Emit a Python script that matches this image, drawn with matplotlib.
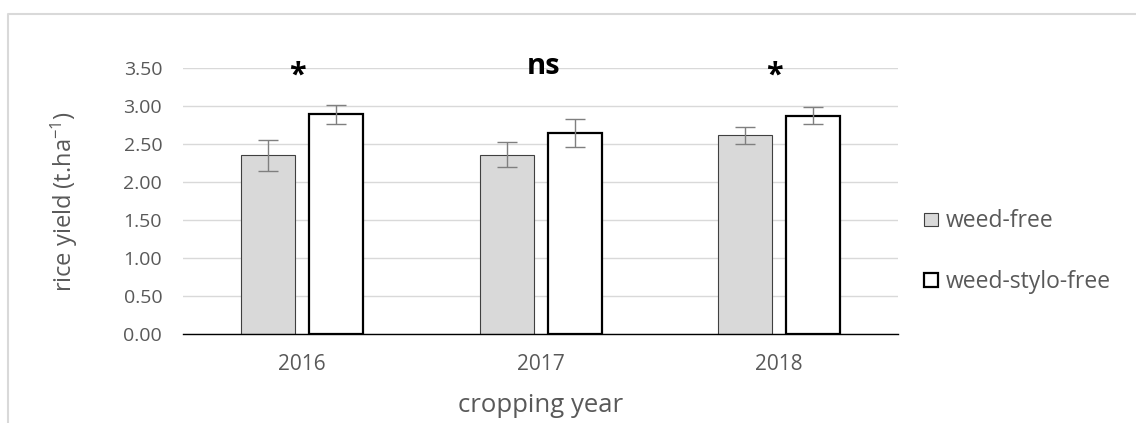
import matplotlib
matplotlib.use("Agg")
import matplotlib.pyplot as plt
from matplotlib.lines import Line2D
from matplotlib.patches import Patch
import numpy

plt.rcParams["font.family"] = ["Open Sans", "DejaVu Sans"]
plt.rcParams["mathtext.default"] = "regular"

YEARS = ["2016", "2017", "2018"]
WEED_FREE = [2.35, 2.36, 2.61]
WEED_FREE_ERR = [0.205, 0.17, 0.115]
STYLO_FREE = [2.89, 2.64, 2.87]
STYLO_FREE_ERR = [0.125, 0.18, 0.113]
SIGNIFICANCE = ["*", "ns", "*"]
Y_TICKS = [0.0, 0.5, 1.0, 1.5, 2.0, 2.5, 3.0, 3.5]

TEXT_GREY = "#595959"


def main():
    figure = plt.figure(figsize=(11.36, 4.23), dpi=100)
    axis = figure.add_axes([0.1611, 0.2097, 0.6298, 0.6303])

    positions = numpy.arange(len(YEARS))
    offset = 0.143
    width = 0.226

    axis.bar(positions - offset, WEED_FREE, width, color="#d9d9d9",
             edgecolor="#404040", linewidth=0.8, zorder=2)
    axis.bar(positions + offset, STYLO_FREE, width, color="white",
             edgecolor="black", linewidth=1.6, zorder=2)
    axis.errorbar(positions - offset, WEED_FREE, yerr=WEED_FREE_ERR, fmt="none",
                  ecolor="#7f7f7f", elinewidth=1.0, capsize=7, capthick=1.0, zorder=3)
    axis.errorbar(positions + offset, STYLO_FREE, yerr=STYLO_FREE_ERR, fmt="none",
                  ecolor="#7f7f7f", elinewidth=1.0, capsize=7, capthick=1.0, zorder=3)

    for position, label in zip(positions, SIGNIFICANCE):
        if label == "*":
            axis.text(position - 0.02, 3.40, label, ha="center", va="center",
                      fontsize=22, fontweight="bold", color="black", clip_on=False)
        else:
            axis.text(position + 0.01, 3.52, label, ha="center", va="center",
                      fontsize=21, fontweight="bold", color="black", clip_on=False)

    axis.set_xlim(-0.5, len(YEARS) - 0.5)
    axis.set_ylim(0, 3.5)
    axis.set_yticks(Y_TICKS)
    axis.set_yticklabels([f"{value:.2f}" for value in Y_TICKS])
    axis.set_xticks(positions)
    axis.set_xticklabels(YEARS)
    axis.tick_params(axis="both", length=0, labelsize=14, colors=TEXT_GREY)
    axis.tick_params(axis="x", labelsize=15, pad=14)
    axis.tick_params(axis="y", pad=15)
    axis.grid(axis="y", color="#d9d9d9", linewidth=1.0, zorder=0)
    axis.set_axisbelow(True)
    for side in ["top", "right", "left"]:
        axis.spines[side].set_visible(False)
    axis.spines["bottom"].set_color("black")
    axis.spines["bottom"].set_linewidth(1.0)

    axis.set_ylabel("rice yield (t.ha$^{-1}$)", fontsize=17, color=TEXT_GREY, labelpad=31)
    axis.set_xlabel("cropping year", fontsize=18.5, color=TEXT_GREY, labelpad=13)

    handles = [
        Patch(facecolor="#d9d9d9", edgecolor="#404040", linewidth=0.8),
        Patch(facecolor="white", edgecolor="black", linewidth=1.6),
    ]
    legend = figure.legend(handles, ["weed-free", "weed-stylo-free"], loc="center left",
                           bbox_to_anchor=(0.813, 0.405), frameon=False, fontsize=16.5,
                           handlelength=0.65, handleheight=0.52, handletextpad=0.3,
                           labelspacing=1.6, borderpad=0, borderaxespad=0)
    for text in legend.get_texts():
        text.set_color(TEXT_GREY)

    border_x = 8 / 1136
    border_y = 1 - 14 / 423
    figure.add_artist(Line2D([border_x, border_x, 1], [0, border_y, border_y],
                             transform=figure.transFigure, color="#d9d9d9", linewidth=1.5))

    figure.savefig("out.png", dpi=100)
    plt.close(figure)


if __name__ == "__main__":
    main()
